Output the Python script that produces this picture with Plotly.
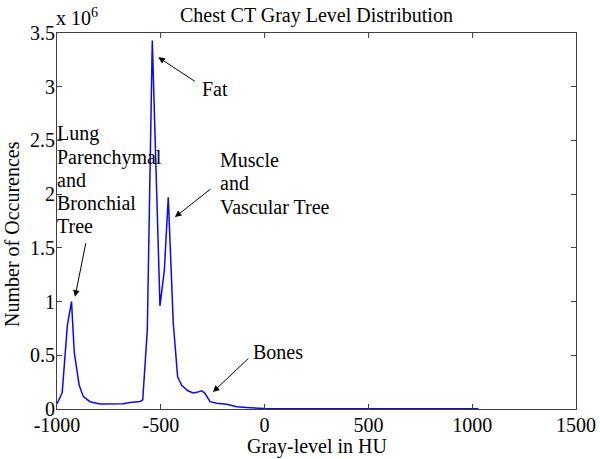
import plotly.graph_objects as go

# Data (HU, occurrences in units of 1e6)
hu = [-1000, -975, -950, -930, -917, -893, -873, -841, -793, -729, -681, -648, -600, -587,
      -565, -541, -504, -483, -464, -440, -419, -399, -370, -343, -327, -303, -287, -263,
      -231, -183, -134, -70, 0, 200, 400, 600, 800, 1000, 1030]
counts_m = [0.05, 0.15, 0.78, 1.00, 0.53, 0.22, 0.115, 0.068, 0.047, 0.049, 0.05, 0.06, 0.07, 0.085,
            0.735, 3.43, 0.96, 1.29, 1.97, 0.80, 0.30, 0.22, 0.17, 0.15, 0.155, 0.17, 0.146, 0.068,
            0.053, 0.044, 0.02, 0.012, 0.004, 0.003, 0.003, 0.003, 0.003, 0.003, 0.003]
x_ticks = [-1000, -500, 0, 500, 1000, 1500]
x_tick_text = ["-1000", "-500", "0", "500", "1000", "1500"]
y_ticks = [0, 0.5, 1, 1.5, 2, 2.5, 3, 3.5]
y_tick_text = ["0", "0.5", "1", "1.5", "2", "2.5", "3", "3.5"]

W, H = 600, 459
L, R, T, B = 57, 576, 33, 409  # plot area in pixels
FONT = "Liberation Serif, Times New Roman, serif"


def px(xp, yp):
    return (xp - L) / (R - L), (B - yp) / (B - T)


fig = go.Figure()
fig.add_trace(go.Scatter(x=hu, y=counts_m, mode="lines",
                         line=dict(color="#0a0af0", width=1.5), showlegend=False))

annotations = []


def text_ann(s, xp, yp, xanchor="left", yanchor="middle", **kw):
    x, y = px(xp, yp)
    d = dict(text=s, x=x, y=y, xref="paper", yref="paper", showarrow=False,
             xanchor=xanchor, yanchor=yanchor, font=dict(family=FONT, size=20, color="black"))
    d.update(kw)
    annotations.append(d)


def arrow_ann(xd, yd, ax, ay):
    annotations.append(dict(text="", x=xd, y=yd, xref="x", yref="y", showarrow=True,
                            ax=ax, ay=ay, arrowhead=2, arrowsize=1.3, arrowwidth=1,
                            arrowcolor="black"))


# Labels
for s, yp in zip(["Lung", "Parenchymal", "and", "Bronchial", "Tree"], [133, 157, 180, 203, 226]):
    text_ann(s, 55, yp)
for s, yp in zip(["Muscle", "and", "Vascular Tree"], [160, 183, 207]):
    text_ann(s, 218, yp)
text_ann("Fat", 200, 89)
text_ann("Bones", 251, 352)

# Arrows (tip in data coords, tail offset in px)
arrow_ann(-512, 3.274, 38, 25)
arrow_ann(-913, 1.045, 11, -55)
arrow_ann(-432, 1.787, 37, -29)
arrow_ann(-249, 0.158, 37, -35)

# Titles
text_ann("Chest CT Gray Level Distribution", 316, 15, xanchor="center")
text_ann("Gray-level in HU", 317, 446, xanchor="center")
text_ann("Number of Occurences", 12, 234, xanchor="center", textangle=-90)
text_ann("x 10<sup>6</sup>", 54, 31, yanchor="bottom")

axis_common = dict(showline=True, linecolor="#404040", linewidth=1, mirror="ticks",
                   ticks="inside", ticklen=5, tickcolor="#404040", showgrid=False,
                   zeroline=False, tickfont=dict(family=FONT, size=20, color="black"))

fig.update_layout(
    width=W, height=H,
    margin=dict(l=L, r=W - R, t=T, b=H - B, autoexpand=False),
    paper_bgcolor="white", plot_bgcolor="white",
    xaxis=dict(range=[-1000, 1500], tickvals=x_ticks, ticktext=x_tick_text,
               ticklabelstandoff=-2, **axis_common),
    yaxis=dict(range=[0, 3.5], tickvals=y_ticks, ticktext=y_tick_text,
               ticklabelstandoff=-3, **axis_common),
    annotations=annotations,
)

# remove the browser's default 8px page margin so the figure fills the window
fig.write_html("out.html", config={"displayModeBar": False},
               post_script="document.body.style.margin='0';")
